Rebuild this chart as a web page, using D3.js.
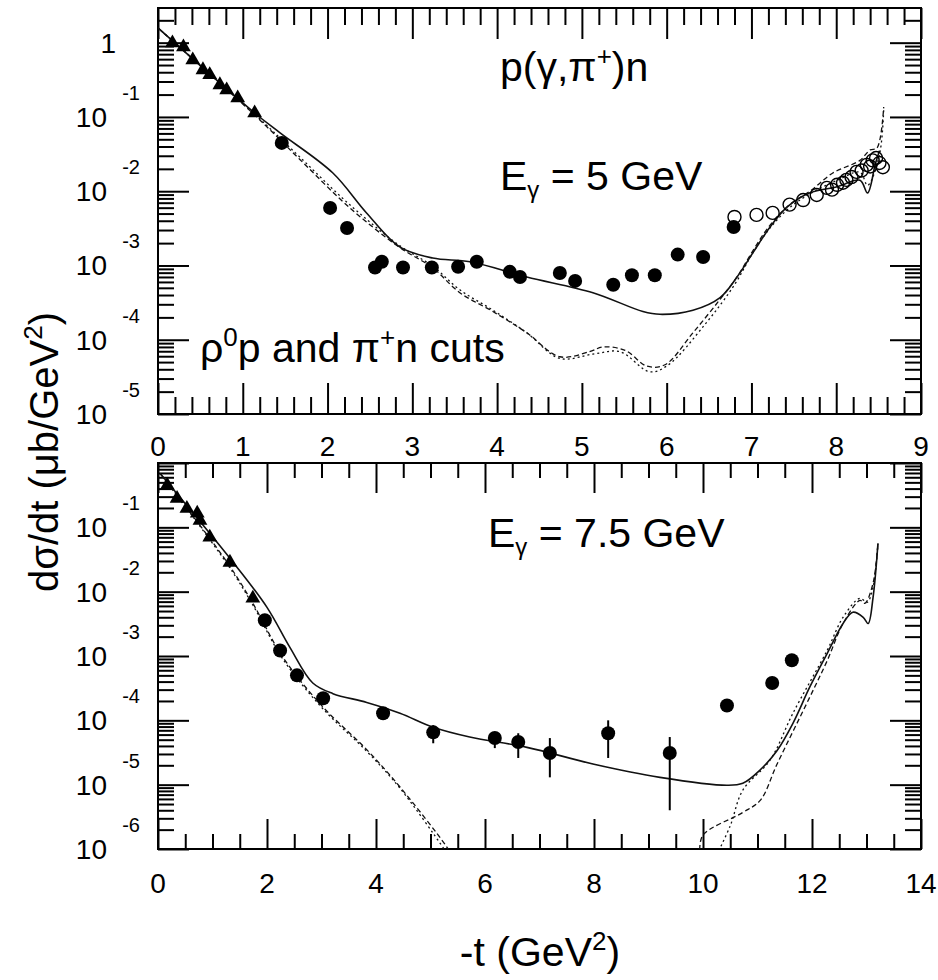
<!DOCTYPE html>
<html>
<head>
<meta charset="utf-8">
<script src="https://cdn.jsdelivr.net/npm/d3@7"></script>
<style>
  body { margin: 0; background: #fff; }
  svg { display: block; font-family: "Liberation Sans", Arial, Helvetica, sans-serif; }
  .frame { fill: none; stroke: #000; stroke-width: 2; }
  .axis path { display: none; }
  .axis line { stroke: #000; stroke-width: 2; }
  .curve { fill: none; stroke: #111; }
</style>
</head>
<body>
<svg id="chart"></svg>
<script>
// ---- E_gamma = 5 GeV panel ----
// [-t (GeV^2), dsigma/dt (ub/GeV^2)]
const e5Triangles = [[0.17, 0.99], [0.30, 0.875], [0.41, 0.585], [0.53, 0.43], [0.61, 0.37],
  [0.73, 0.27], [0.81, 0.23], [0.94, 0.18], [1.14, 0.113]];
const e5Filled = [[1.46, 4.47e-2], [2.03, 5.96e-3], [2.23, 3.2e-3], [2.56, 9.4e-4], [2.64, 1.12e-3],
  [2.89, 9.4e-4], [3.23, 9.4e-4], [3.54, 9.6e-4], [3.76, 1.12e-3], [4.15, 8.2e-4], [4.27, 7.0e-4],
  [4.74, 7.9e-4], [4.92, 6.2e-4], [5.37, 5.5e-4], [5.59, 7.4e-4], [5.86, 7.4e-4], [6.13, 1.4e-3],
  [6.43, 1.3e-3], [6.79, 3.3e-3]];
const e5Open = [[6.80, 4.5e-3], [7.06, 4.8e-3], [7.25, 5.1e-3], [7.45, 6.6e-3], [7.61, 7.6e-3],
  [7.77, 8.9e-3], [7.89, 1.11e-2], [7.95, 1.05e-2], [8.01, 1.22e-2], [8.08, 1.3e-2], [8.12, 1.42e-2],
  [8.18, 1.55e-2], [8.24, 1.82e-2], [8.30, 1.9e-2], [8.36, 2.26e-2], [8.40, 2.15e-2], [8.43, 2.6e-2],
  [8.47, 2.8e-2], [8.51, 2.4e-2], [8.55, 2.1e-2]];
const e5Solid = [[0, 1.58], [1.14, 0.113], [1.44, 0.061], [2.06, 0.0177], [2.46, 5.1e-3],
  [2.85, 1.78e-3], [3.24, 1.26e-3], [3.68, 1.12e-3], [4.35, 7.0e-4], [5.13, 4.3e-4], [5.72, 2.4e-4],
  [5.92, 2.2e-4], [6.31, 2.5e-4], [6.63, 3.7e-4], [6.83, 7e-4], [7.02, 1.5e-3], [7.22, 3.3e-3],
  [7.42, 6.1e-3], [7.69, 9.5e-3], [8.01, 1.15e-2], [8.28, 1.4e-2], [8.37, 9.5e-3], [8.46, 2.3e-2],
  [8.51, 3.5e-2]];
const e5Dashed = [[0, 1.58], [1.14, 0.106], [1.67, 0.027], [2.26, 6.0e-3], [2.85, 1.75e-3],
  [3.24, 9.3e-4], [3.56, 4.3e-4], [3.95, 2.4e-4], [4.35, 1.24e-4], [4.74, 5.9e-5], [5.09, 6.9e-5],
  [5.25, 8e-5], [5.51, 7.2e-5], [5.77, 4.4e-5], [5.98, 4.6e-5], [6.31, 1.24e-4], [6.63, 3.5e-4],
  [6.83, 7e-4], [7.02, 1.6e-3], [7.22, 3.5e-3], [7.45, 6.6e-3], [7.71, 1.04e-2], [7.96, 1.76e-2],
  [8.28, 2.6e-2], [8.40, 3.6e-2], [8.48, 3.8e-2], [8.56, 0.136]];
const e5Dotted = [[0, 1.58], [1.14, 0.109], [1.67, 0.029], [2.26, 6.6e-3], [2.85, 1.85e-3],
  [3.24, 9.8e-4], [3.56, 4.7e-4], [3.95, 2.5e-4], [4.35, 1.24e-4], [4.74, 5.6e-5], [5.13, 6.4e-5],
  [5.45, 6.9e-5], [5.80, 3.7e-5], [6.01, 4.5e-5], [6.45, 1.6e-4], [6.80, 5.5e-4], [7.02, 1.5e-3],
  [7.22, 3.2e-3], [7.45, 6e-3], [7.71, 9.5e-3], [8.01, 1.4e-2], [8.28, 1.8e-2], [8.37, 1.2e-2],
  [8.51, 3.1e-2], [8.56, 0.125]];

// ---- E_gamma = 7.5 GeV panel ----
const e75Triangles = [[0.17, 0.45], [0.35, 0.28], [0.53, 0.196], [0.72, 0.165], [0.77, 0.128],
  [0.95, 0.07], [1.32, 0.0285], [1.74, 7.9e-3]];
// [-t, value, error low, error high]
const e75Filled = [[1.96, 3.6e-3, 3.6e-3, 3.6e-3], [2.24, 1.22e-3, 1.22e-3, 1.22e-3],
  [2.55, 5.0e-4, 5.0e-4, 5.0e-4], [3.03, 2.2e-4, 2.2e-4, 2.2e-4], [4.13, 1.29e-4, 1.29e-4, 1.29e-4],
  [5.05, 6.5e-5, 4.4e-5, 8.4e-5], [6.18, 5.3e-5, 3.7e-5, 6.5e-5], [6.61, 4.6e-5, 2.6e-5, 6.3e-5],
  [7.19, 3.1e-5, 1.3e-5, 5.3e-5], [8.26, 6.3e-5, 2.6e-5, 1e-4], [9.39, 3.1e-5, 4.0e-6, 5.5e-5],
  [10.44, 1.7e-4, 1.7e-4, 1.7e-4], [11.27, 3.8e-4, 3.2e-4, 4.5e-4], [11.63, 8.6e-4, 8.6e-4, 8.6e-4]];
const e75Solid = [[0.04, 0.687], [1.38, 0.0285], [2.0, 5.7e-3], [2.42, 1.36e-3], [2.84, 3.8e-4],
  [3.21, 2.6e-4], [3.83, 1.9e-4], [4.44, 1.29e-4], [5.05, 7.8e-5], [5.72, 5.5e-5], [6.77, 3.8e-5],
  [7.98, 2.1e-5], [9.21, 1.3e-5], [10.44, 9.8e-6], [10.73, 1.05e-5], [11.05, 1.7e-5], [11.36, 3.4e-5],
  [11.65, 9e-5], [11.96, 3.3e-4], [12.28, 1.1e-3], [12.57, 3.2e-3], [12.75, 4.8e-3], [12.94, 4.0e-3],
  [13.03, 3.2e-3], [13.12, 8.1e-3], [13.21, 0.056]];
const e75DashedLow = [[0.04, 0.687], [1.27, 0.0285], [1.74, 6.6e-3], [2.29, 9.6e-4], [3.03, 1.6e-4],
  [3.83, 3.5e-5], [4.44, 9.2e-6], [5.30, 1.07e-6], [5.45, 6.5e-7]];
const e75DottedLow = [[0.04, 0.687], [1.27, 0.027], [1.74, 6.2e-3], [2.29, 9.0e-4], [3.03, 1.5e-4],
  [3.83, 3.3e-5], [4.44, 8.8e-6], [5.25, 1.0e-6], [5.40, 6.5e-7]];
const e75DashedHigh = [[9.94, 9.7e-7], [10.0, 1.65e-6], [10.73, 3.7e-6], [11.05, 5.7e-6],
  [11.36, 2.1e-5], [11.96, 2.3e-4], [12.28, 8.5e-4], [12.57, 3.2e-3], [12.88, 7.3e-3],
  [12.97, 6.6e-3], [13.12, 1.35e-2], [13.21, 0.056]];
const e75DottedHigh = [[10.25, 8e-7], [10.50, 2.3e-6], [10.73, 8.2e-6], [11.23, 2.4e-5],
  [11.65, 1.29e-4], [12.28, 1.23e-3], [12.57, 4e-3], [12.88, 7.9e-3], [13.01, 6.8e-3],
  [13.12, 1.17e-2], [13.21, 0.056]];

// tick labels
const e5XLabels = d3.range(0, 10, 1);
const e75XLabels = d3.range(0, 15, 2);
const e5Decades = [0, -1, -2, -3, -4, -5];
const e75Decades = [-1, -2, -3, -4, -5, -6];

class LogPanel {
  constructor(_config, _data) {
    this.config = _config;
    this.data = _data;
    this.initVis();
  }

  initVis() {
    let vis = this;
    const c = vis.config;

    vis.xScale = d3.scaleLinear().domain([0, c.xMax]).range([c.left, c.right]);
    vis.yScale = d3.scaleLog().domain([c.yMin, c.yMax]).range([c.bottom, c.top]);

    vis.g = c.svg.append('g');

    vis.g.append('clipPath').attr('id', c.id + '-clip')
      .append('rect')
      .attr('x', c.left).attr('y', c.top)
      .attr('width', c.right - c.left).attr('height', c.bottom - c.top);

    // log minor ticks 2..9 in every decade
    const lo = Math.floor(Math.log10(c.yMin)), hi = Math.ceil(Math.log10(c.yMax));
    vis.yMajor = [];
    vis.yMinor = [];
    for (let d = lo; d <= hi; d++) {
      const base = Math.pow(10, d);
      if (base >= c.yMin && base <= c.yMax) vis.yMajor.push(base);
      for (let m = 2; m <= 9; m++) {
        const v = m * base;
        if (v > c.yMin && v < c.yMax) vis.yMinor.push(v);
      }
    }
    vis.xMajor = d3.range(0, c.xMax + 1e-9, c.xMajorStep);
    vis.xMinor = d3.range(0, c.xMax + 1e-9, c.xMinorStep)
      .filter(v => Math.abs(v / c.xMajorStep - Math.round(v / c.xMajorStep)) > 1e-6);

    vis.renderAxes();
    vis.renderData();
  }

  renderAxes() {
    let vis = this;
    const c = vis.config;

    const addAxis = (axis, tx, ty) => {
      vis.g.append('g').attr('class', 'axis')
        .attr('transform', `translate(${tx},${ty})`)
        .call(axis);
    };

    [[vis.xMajor, c.xMajorLen], [vis.xMinor, c.xMinorLen]].forEach(([vals, len]) => {
      addAxis(d3.axisBottom(vis.xScale).tickValues(vals).tickSize(-len).tickFormat(''), 0, c.bottom);
      addAxis(d3.axisTop(vis.xScale).tickValues(vals).tickSize(-len).tickFormat(''), 0, c.top);
    });
    [[vis.yMajor, 31], [vis.yMinor, 16]].forEach(([vals, len]) => {
      addAxis(d3.axisLeft(vis.yScale).tickValues(vals).tickSize(-len).tickFormat(''), c.left, 0);
      addAxis(d3.axisRight(vis.yScale).tickValues(vals).tickSize(-len).tickFormat(''), c.right, 0);
    });

    vis.g.append('rect').attr('class', 'frame')
      .attr('x', c.left).attr('y', c.top)
      .attr('width', c.right - c.left).attr('height', c.bottom - c.top);

    // x tick labels
    vis.g.selectAll('.xlab').data(c.xLabels).join('text')
      .attr('class', 'xlab')
      .attr('x', d => vis.xScale(d))
      .attr('y', c.xLabelY)
      .attr('text-anchor', 'middle')
      .attr('font-size', 28)
      .text(d => d);

    // y tick labels, 10^n
    c.decades.forEach(n => {
      const y = vis.yScale(Math.pow(10, n));
      if (n === 0) {
        vis.g.append('text').attr('x', 116).attr('y', y + 10)
          .attr('text-anchor', 'end').attr('font-size', 28).text('1');
        return;
      }
      vis.g.append('text').attr('x', 107).attr('y', y + 10)
        .attr('text-anchor', 'end').attr('font-size', 28).text('10');
      vis.g.append('text').attr('x', 140).attr('y', y - 17)
        .attr('text-anchor', 'end').attr('font-size', 20).text('-' + Math.abs(n));
    });
  }

  renderData() {
    let vis = this;
    const c = vis.config;

    vis.line = d3.line()
      .x(d => vis.xScale(d[0]))
      .y(d => vis.yScale(d[1]))
      .curve(d3.curveCatmullRom.alpha(0.5));

    const plot = vis.g.append('g').attr('clip-path', `url(#${c.id}-clip)`);

    vis.data.curves.forEach(cv => {
      plot.append('path')
        .datum(cv.values)
        .attr('class', 'curve')
        .attr('stroke-width', cv.width)
        .attr('stroke-dasharray', cv.dash)
        .attr('d', vis.line);
    });

    // error bars
    plot.selectAll('.err').data(vis.data.errors || []).join('line')
      .attr('class', 'err')
      .attr('x1', d => vis.xScale(d[0])).attr('x2', d => vis.xScale(d[0]))
      .attr('y1', d => vis.yScale(d[2])).attr('y2', d => vis.yScale(d[3]))
      .attr('stroke', '#000').attr('stroke-width', 2);

    plot.selectAll('.open').data(vis.data.open || []).join('circle')
      .attr('class', 'open')
      .attr('cx', d => vis.xScale(d[0])).attr('cy', d => vis.yScale(d[1]))
      .attr('r', 6.5)
      .attr('fill', 'none').attr('stroke', '#000').attr('stroke-width', 1.4);

    plot.selectAll('.filled').data(vis.data.filled).join('circle')
      .attr('class', 'filled')
      .attr('cx', d => vis.xScale(d[0])).attr('cy', d => vis.yScale(d[1]))
      .attr('r', 7)
      .attr('fill', '#000');

    plot.selectAll('.tri').data(vis.data.triangles).join('path')
      .attr('class', 'tri')
      .attr('transform', d => `translate(${vis.xScale(d[0])},${vis.yScale(d[1])})`)
      .attr('d', d3.symbol(d3.symbolTriangle, 95))
      .attr('fill', '#000');
  }
}

const svg = d3.select('#chart').attr('width', 938).attr('height', 980);

new LogPanel({
  svg: svg, id: 'e5',
  left: 158, right: 921, top: 8, bottom: 414,
  xMax: 9, yMin: 1e-5, yMax: 2.93,
  xMajorStep: 1, xMinorStep: 0.2, xMajorLen: 31, xMinorLen: 17,
  xLabels: e5XLabels, xLabelY: 456, decades: e5Decades
}, {
  triangles: e5Triangles, filled: e5Filled, open: e5Open,
  curves: [
    { values: e5Solid, width: 1.6, dash: null },
    { values: e5Dashed, width: 1.3, dash: '5,3' },
    { values: e5Dotted, width: 1.3, dash: '2,3' }
  ]
});

new LogPanel({
  svg: svg, id: 'e75',
  left: 158, right: 921, top: 463, bottom: 849,
  xMax: 14, yMin: 1e-6, yMax: 1,
  xMajorStep: 2, xMinorStep: 0.5, xMajorLen: 30, xMinorLen: 15,
  xLabels: e75XLabels, xLabelY: 893, decades: e75Decades
}, {
  triangles: e75Triangles, filled: e75Filled, errors: e75Filled.filter(d => d[2] !== d[3]),
  curves: [
    { values: e75Solid, width: 1.6, dash: null },
    { values: e75DashedLow, width: 1.3, dash: '5,3' },
    { values: e75DottedLow, width: 1.3, dash: '2,3' },
    { values: e75DashedHigh, width: 1.3, dash: '5,3' },
    { values: e75DottedHigh, width: 1.3, dash: '2,3' }
  ]
});

// panel annotations
const t1 = svg.append('text').attr('x', 500).attr('y', 81).attr('font-size', 41);
t1.append('tspan').text('p(γ,π');
t1.append('tspan').attr('font-size', 26).attr('dy', -16).text('+');
t1.append('tspan').attr('dy', 16).text(')n');

const t2 = svg.append('text').attr('x', 500).attr('y', 190).attr('font-size', 41);
t2.append('tspan').text('E');
t2.append('tspan').attr('font-size', 24).attr('dy', 8).text('γ');
t2.append('tspan').attr('dy', -8).text(' = 5 GeV');

const t3 = svg.append('text').attr('x', 200).attr('y', 362).attr('font-size', 41);
t3.append('tspan').text('ρ');
t3.append('tspan').attr('font-size', 26).attr('dy', -16).text('0');
t3.append('tspan').attr('dy', 16).text('p and π');
t3.append('tspan').attr('font-size', 26).attr('dy', -16).text('+');
t3.append('tspan').attr('dy', 16).text('n cuts');

const t4 = svg.append('text').attr('x', 488).attr('y', 547).attr('font-size', 41);
t4.append('tspan').text('E');
t4.append('tspan').attr('font-size', 24).attr('dy', 8).text('γ');
t4.append('tspan').attr('dy', -8).text(' = 7.5 GeV');

// axis titles
const xt = svg.append('text').attr('x', 540).attr('y', 966)
  .attr('text-anchor', 'middle').attr('font-size', 41);
xt.append('tspan').text('-t (GeV');
xt.append('tspan').attr('font-size', 26).attr('dy', -16).text('2');
xt.append('tspan').attr('dy', 16).text(')');

const yt = svg.append('text')
  .attr('transform', 'translate(58,452) rotate(-90)')
  .attr('text-anchor', 'middle').attr('font-size', 40);
yt.append('tspan').text('dσ/dt (μb/GeV');
yt.append('tspan').attr('font-size', 26).attr('dy', -16).text('2');
yt.append('tspan').attr('dy', 16).text(')');
</script>
</body>
</html>
